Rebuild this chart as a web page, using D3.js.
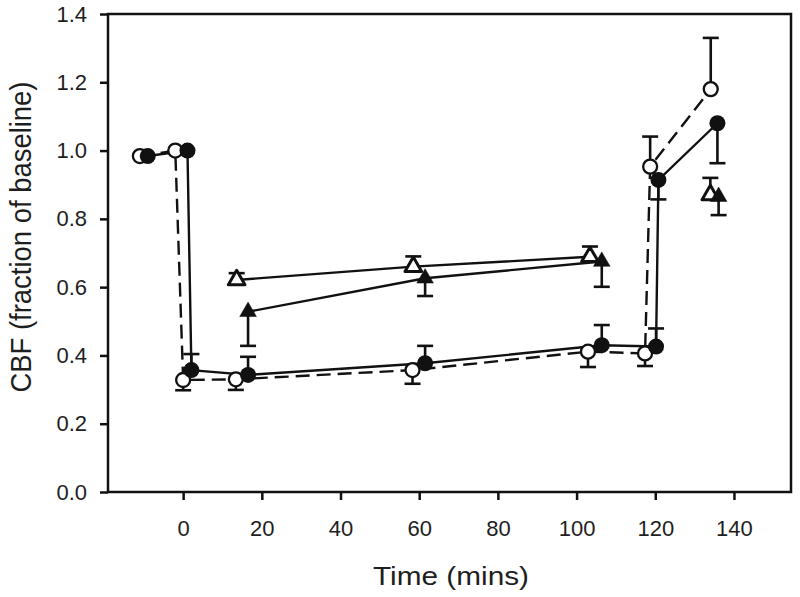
<!DOCTYPE html>
<html>
<head>
<meta charset="utf-8">
<script src="https://cdn.jsdelivr.net/npm/d3@7"></script>
<style>
  body { margin: 0; background: #fff; }
  text { font-family: "Liberation Sans", Arial, sans-serif; fill: #1e1e1e; }
</style>
</head>
<body>
<svg id="chart" width="800" height="597"></svg>
<script>
// CBF vs time, four groups. err > 0 => one-sided bar drawn up, err < 0 => drawn down
const openCircleT = [-11, -2, 0, 13.4, 58.3, 102.9, 117.4, 118.7, 134.1];
const openCircleV = [0.984, 1.0, 0.328, 0.330, 0.357, 0.411, 0.406, 0.953, 1.18];
const openCircleE = [0, 0, -0.03, -0.031, -0.04, -0.045, -0.037, 0.088, 0.15];

const filledCircleT = [-9, 1.1, 2.1, 16.5, 61.5, 106.4, 120.2, 120.8, 135.8];
const filledCircleV = [0.984, 1.0, 0.357, 0.343, 0.377, 0.43, 0.426, 0.914, 1.08];
const filledCircleE = [0, 0, 0.047, 0.053, 0.051, 0.059, 0.053, -0.057, -0.117];

const openTriT = [13.6, 58.5, 103.4, 134];
const openTriV = [0.621, 0.66, 0.689, 0.87];
const openTriE = [0.02, 0.03, 0.03, 0.05];

const filledTriT = [16.5, 61.5, 106.4, 136.1];
const filledTriV = [0.528, 0.626, 0.675, 0.865];
const filledTriE = [-0.10, -0.052, -0.074, -0.054];

// only the first three triangle points are joined
const triJoined = 3;

const xTicks = [0, 20, 40, 60, 80, 100, 120, 140];
const yTicks = [0, 0.2, 0.4, 0.6, 0.8, 1.0, 1.2, 1.4];

const ink = '#111';
const svg = d3.select('#chart');

const x = d3.scaleLinear().domain([-19.1, 154.5]).range([108, 791]);
const y = d3.scaleLinear().domain([0, 1.4]).range([492, 14]);

function zip(ts, vs, es) {
    return ts.map((t, i) => ({ t: t, v: vs[i], e: es[i] }));
}

const series = [
    { data: zip(openCircleT, openCircleV, openCircleE), shape: 'circle', filled: false, dash: '14,7', join: null },
    { data: zip(filledCircleT, filledCircleV, filledCircleE), shape: 'circle', filled: true, dash: null, join: null },
    { data: zip(openTriT, openTriV, openTriE), shape: 'tri', filled: false, dash: null, join: triJoined },
    { data: zip(filledTriT, filledTriV, filledTriE), shape: 'tri', filled: true, dash: null, join: triJoined }
];

// axes
const xAxis = d3.axisBottom(x).tickValues(xTicks).tickSize(8).tickSizeOuter(0).tickPadding(20)
    .tickFormat(d3.format('d'));
const gx = svg.append('g').attr('transform', 'translate(0,492)').call(xAxis);
gx.select('.domain').remove();
gx.selectAll('line').attr('stroke', ink).attr('stroke-width', 2.5);
gx.selectAll('text').attr('font-size', '22px').attr('fill', '#222');

const yAxis = d3.axisLeft(y).tickValues(yTicks).tickSize(8).tickSizeOuter(0).tickPadding(13)
    .tickFormat(d3.format('.1f'));
const gy = svg.append('g').attr('transform', 'translate(108,0)').call(yAxis);
gy.select('.domain').remove();
gy.selectAll('line').attr('stroke', ink).attr('stroke-width', 2.5);
gy.selectAll('text').attr('font-size', '22px').attr('fill', '#222');

// frame
svg.append('rect')
    .attr('x', x.range()[0]).attr('y', y.range()[1])
    .attr('width', x.range()[1] - x.range()[0])
    .attr('height', y.range()[0] - y.range()[1])
    .attr('fill', 'none').attr('stroke', ink).attr('stroke-width', 2.5);

// axis titles
svg.append('text')
    .attr('x', 451).attr('y', 585)
    .attr('text-anchor', 'middle')
    .attr('font-size', '25px')
    .attr('textLength', 156).attr('lengthAdjust', 'spacingAndGlyphs')
    .text('Time (mins)');

svg.append('text')
    .attr('transform', 'translate(31,237) rotate(-90)')
    .attr('text-anchor', 'middle')
    .attr('font-size', '29px')
    .attr('textLength', 311).attr('lengthAdjust', 'spacingAndGlyphs')
    .text('CBF (fraction of baseline)');

const plot = svg.append('g');
const line = d3.line().x(d => x(d.t)).y(d => y(d.v));

// connecting lines
series.forEach(s => {
    const pts = s.join ? s.data.slice(0, s.join) : s.data;
    plot.append('path')
        .attr('d', line(pts))
        .attr('fill', 'none')
        .attr('stroke', ink)
        .attr('stroke-width', 2.4)
        .attr('stroke-dasharray', s.dash);
});

// one-sided error bars
const cap = 8;
series.forEach(s => {
    const bars = s.data.filter(d => d.e !== 0);
    const g = plot.append('g').attr('stroke', ink).attr('stroke-width', 2.6);
    g.selectAll('line.stem').data(bars).join('line')
        .attr('class', 'stem')
        .attr('x1', d => x(d.t)).attr('x2', d => x(d.t))
        .attr('y1', d => y(d.v)).attr('y2', d => y(d.v + d.e));
    g.selectAll('line.cap').data(bars).join('line')
        .attr('class', 'cap')
        .attr('x1', d => x(d.t) - cap).attr('x2', d => x(d.t) + cap)
        .attr('y1', d => y(d.v + d.e)).attr('y2', d => y(d.v + d.e));
});

// markers
const tri = d3.symbol().type(d3.symbolTriangle).size(120);
series.forEach(s => {
    const g = plot.append('g');
    if (s.shape === 'circle') {
        g.selectAll('circle').data(s.data).join('circle')
            .attr('cx', d => x(d.t)).attr('cy', d => y(d.v))
            .attr('r', s.filled ? 8 : 7)
            .attr('fill', s.filled ? ink : '#fff')
            .attr('stroke', ink).attr('stroke-width', s.filled ? 0 : 2.3);
    } else {
        g.selectAll('path').data(s.data).join('path')
            .attr('transform', d => `translate(${x(d.t)},${y(d.v)})`)
            .attr('d', tri())
            .attr('fill', s.filled ? ink : '#fff')
            .attr('stroke', ink).attr('stroke-width', s.filled ? 0.5 : 3)
            .attr('stroke-linejoin', 'round');
    }
});
</script>
</body>
</html>
